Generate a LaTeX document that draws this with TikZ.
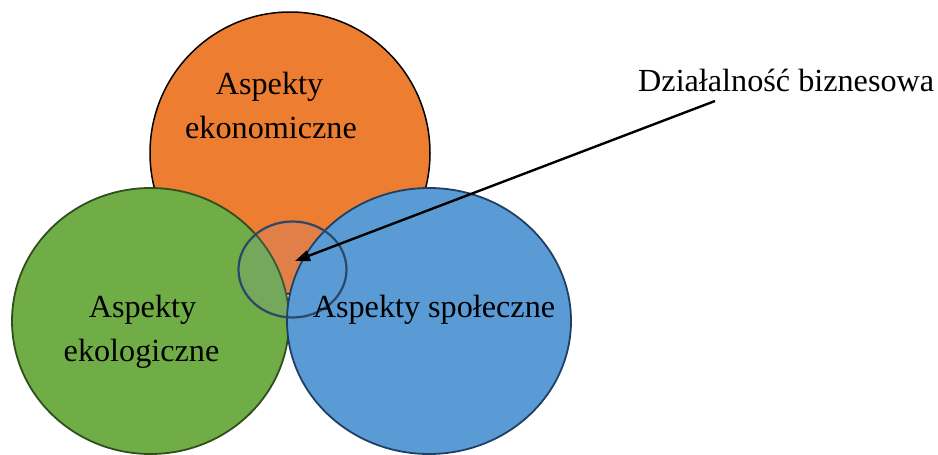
\documentclass[tikz,border=0pt]{standalone}
\usepackage{fontspec}
\setmainfont{Liberation Serif}
\usetikzlibrary{arrows.meta}
\definecolor{orangeF}{HTML}{ED7D31}
\definecolor{greenF}{HTML}{70AD47}
\definecolor{blueF}{HTML}{5B9BD5}
\definecolor{greenD}{HTML}{2F4F1C}
\definecolor{blueD}{HTML}{1F3F64}
\definecolor{ringD}{HTML}{2C4868}
\definecolor{ringF}{HTML}{9690CA}
\tikzset{
  lbl/.style={inner sep=0pt, anchor=base, font=\fontsize{32.2}{44}\selectfont},
  aspect/.style={line width=1.8pt},
  pointer/.style={line width=2.4pt, -{Triangle[length=15pt,width=11pt]}}
}
\begin{document}
\begin{tikzpicture}[x=1pt,y=-1pt]
\useasboundingbox (0,0) rectangle (938,455);
% ellipses
\draw[aspect, fill=orangeF, draw=black, line width=1.5pt] (290,153) ellipse [x radius=140, y radius=141];
\draw[aspect, fill=greenF, draw=greenD] (150.5,321) ellipse [x radius=138.5, y radius=133];
% business ring fill (under the social ellipse)
\fill[ringF, fill opacity=0.15] (292.5,269.5) ellipse [x radius=54, y radius=48];
\draw[aspect, fill=blueF, draw=blueD] (429,321) ellipse [x radius=142, y radius=133];
% business ring outline
\draw[line width=2.2pt, draw=ringD] (292.5,269.5) ellipse [x radius=54, y radius=48];
% labels
\node[lbl] (eko1) at (269.5,94.5) {Aspekty};
\node[lbl] (eko2) at (271,138.5) {ekonomiczne};
\node[lbl] (ekl1) at (142.5,317) {Aspekty};
\node[lbl] (ekl2) at (141.5,361.5) {ekologiczne};
\node[lbl] (spo) at (434,317) {Aspekty społeczne};
\node[lbl, anchor=base west] (biz) at (638,91) {Działalność biznesowa};
% arrow
\coordinate (start) at (715,101);
\coordinate (tip) at (295,261);
\draw[pointer] (start) -- (tip);
\end{tikzpicture}
\end{document}
